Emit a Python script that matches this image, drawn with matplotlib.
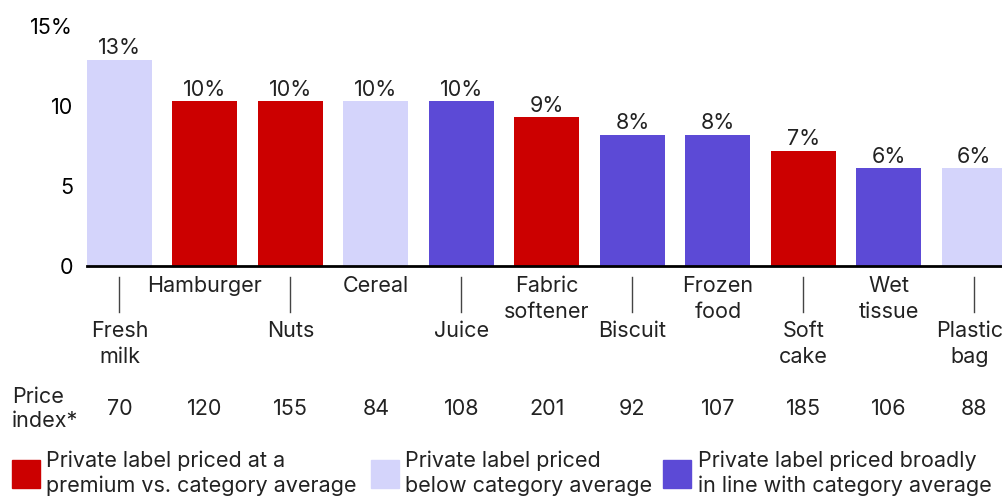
import matplotlib
matplotlib.use('Agg')
import matplotlib.pyplot as plt
import matplotlib.transforms as mtransforms
from matplotlib.patches import Rectangle

plt.rcParams['font.family'] = ['Inter', 'DejaVu Sans']
plt.rcParams['text.color'] = '#222222'

categories = ['Fresh\nmilk', 'Hamburger', 'Nuts', 'Cereal', 'Juice', 'Fabric\nsoftener',
              'Biscuit', 'Frozen\nfood', 'Soft\ncake', 'Wet\ntissue', 'Plastic\nbag']
shares = [12.9, 10.3, 10.3, 10.3, 10.3, 9.3, 8.2, 8.2, 7.2, 6.1, 6.1]
price_index = [70, 120, 155, 84, 108, 201, 92, 107, 185, 106, 88]
groups = ['below', 'premium', 'premium', 'below', 'inline', 'premium',
          'inline', 'inline', 'premium', 'inline', 'below']

colors = {'premium': '#CC0000', 'below': '#D4D4FB', 'inline': '#5C4AD6'}
legend_labels = [
    ('premium', 'Private label priced at a\npremium vs. category average'),
    ('below', 'Private label priced\nbelow category average'),
    ('inline', 'Private label priced broadly\nin line with category average'),
]

W, H = 1003, 497
fs = 15.5
fig = plt.figure(figsize=(W / 100, H / 100), dpi=100)

def px(x, y):
    # pixel coords from top-left -> figure fraction
    return x / W, 1 - y / H

ax_left, ax_right, ax_top, ax_bottom = 87, 1003, 26, 266
ax = fig.add_axes([ax_left / W, 1 - ax_bottom / H, (ax_right - ax_left) / W, (ax_bottom - ax_top) / H])

n = len(categories)
xs = list(range(n))
ax.bar(xs, shares, width=0.76, color=[colors[g] for g in groups], zorder=2)
ax.set_xlim(-0.38, 10.335)
ax.set_ylim(0, 15)

for x, v in zip(xs, shares):
    ax.annotate(f'{round(v)}%', (x, v), xytext=(0, 1), textcoords='offset points',
                ha='center', va='bottom', fontsize=fs)

ax.set_yticks([0, 5, 10, 15])
ax.set_yticklabels(['0', '5', '10', '15%'], fontsize=fs)
ax.tick_params(axis='y', length=0, pad=10)
ax.set_xticks([])
for s in ['top', 'right', 'left']:
    ax.spines[s].set_visible(False)
ax.spines['bottom'].set_linewidth(2)
ax.spines['bottom'].set_color('black')
ax.spines['bottom'].set_zorder(3)

trans = mtransforms.blended_transform_factory(ax.transData, fig.transFigure)
for x, label in zip(xs, categories):
    # keep the last label inside the figure
    lx = x - 0.05 if x == n - 1 else x
    if x % 2 == 0:
        ax.plot([x, x], [px(0, 277)[1], px(0, 312)[1]], transform=trans, color='#444444',
                lw=1, clip_on=False)
        ax.text(lx, px(0, 321)[1], label, transform=trans, ha='center', va='top',
                fontsize=fs, linespacing=1.4)
    else:
        ax.text(lx, px(0, 276)[1], label, transform=trans, ha='center', va='top',
                fontsize=fs, linespacing=1.4)

for x, p in zip(xs, price_index):
    ax.text(x, px(0, 409)[1], str(p), transform=trans, ha='center', va='center', fontsize=fs)
fig.text(*px(12, 409), 'Price\nindex*', ha='left', va='center', fontsize=fs, linespacing=1.3)

legend_x = [(12, 46), (371, 405), (663, 698)]
for (key, text), (bx, tx) in zip(legend_labels, legend_x):
    x0, y0 = px(bx, 488)
    fig.patches.append(Rectangle((x0, y0), 28 / W, 28 / H, transform=fig.transFigure,
                                 color=colors[key]))
    fig.text(*px(tx, 473), text, ha='left', va='center', fontsize=fs, linespacing=1.3)

fig.savefig('out.png', dpi=100)
